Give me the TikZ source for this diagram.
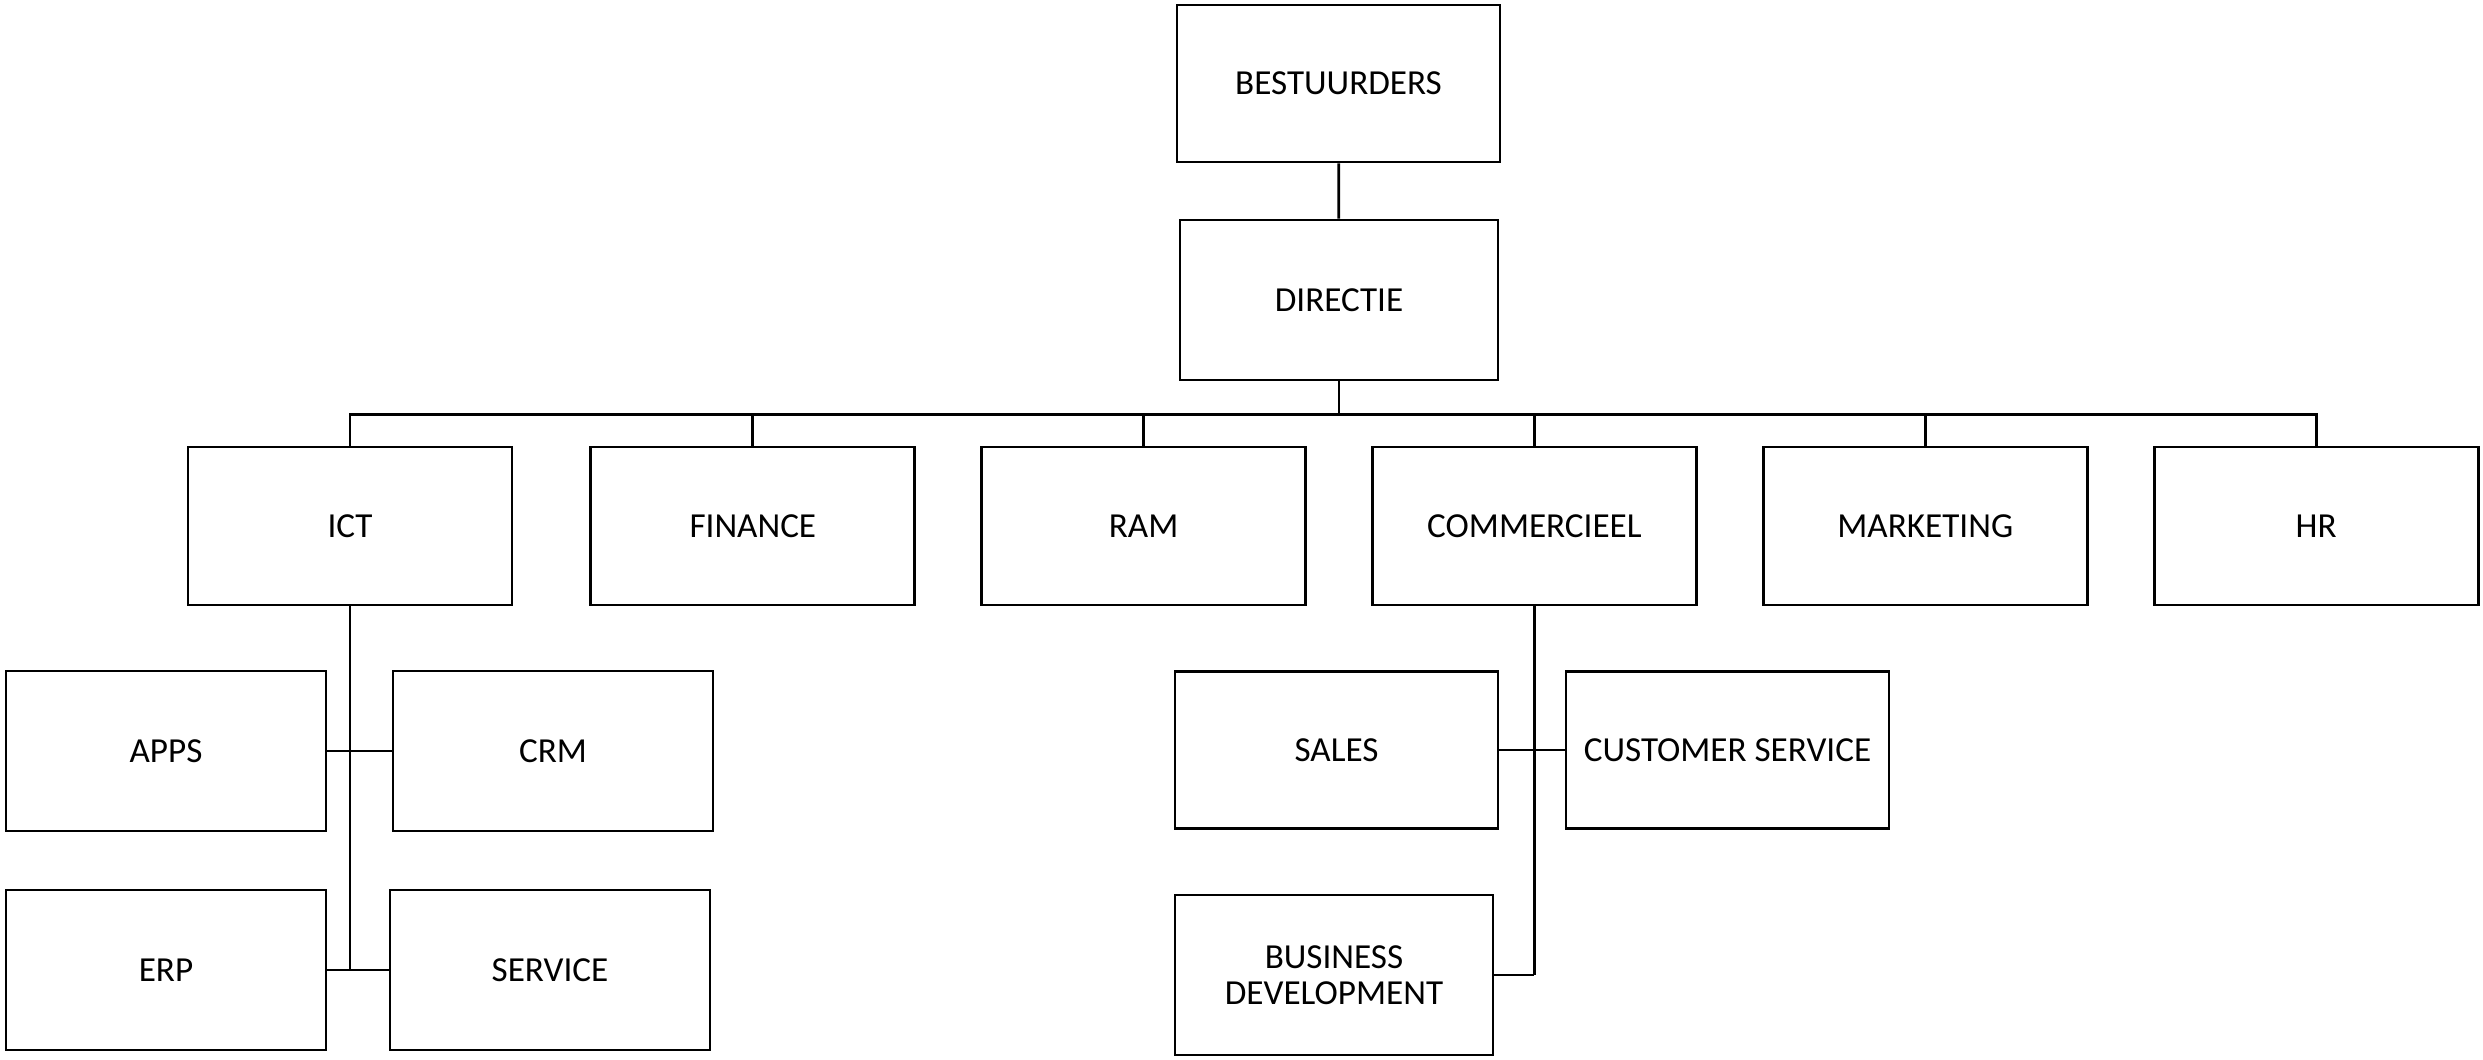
\documentclass[tikz,border=0pt]{standalone}
\usepackage{fontspec}
\setmainfont{Carlito}
\usetikzlibrary{positioning,calc}
\tikzset{
    unit/.style = {draw, rectangle, line width=0.8pt, minimum width=3.24cm, minimum height=1.58cm, align=center, inner sep=2pt},
    link/.style = {line width=0.8pt},
}

\begin{document}
\begin{tikzpicture}[
    every node/.style={font=\fontsize{10}{10.2}\selectfont},
    node distance=0.64cm
]
\useasboundingbox (0,0) rectangle (24.83,-10.60);

% Top of the chart
\node[unit, minimum width=3.23cm, minimum height=1.57cm] (bestuur) at (13.385,-0.835) {BESTUURDERS};
\node[unit, minimum width=3.18cm, minimum height=1.60cm] (directie) at (13.39,-3.00) {DIRECTIE};

% Departments (one row)
\node[unit] (ict) at (3.50,-5.26) {ICT};
\node[unit, right=0.76cm of ict] (finance) {FINANCE};
\node[unit, right=0.64cm of finance] (ram) {RAM};
\node[unit, right=0.64cm of ram] (comm) {COMMERCIEEL};
\node[unit, right=0.64cm of comm] (marketing) {MARKETING};
\node[unit, right=0.64cm of marketing] (hr) {HR};

% ICT teams
\node[unit, minimum width=3.20cm, minimum height=1.60cm] (apps) at (1.66,-7.51) {APPS};
\node[unit, minimum width=3.20cm, minimum height=1.60cm] (crm) at (5.53,-7.51) {CRM};
\node[unit, minimum width=3.20cm, minimum height=1.60cm] (erp) at (1.66,-9.70) {ERP};
\node[unit, minimum width=3.20cm, minimum height=1.60cm] (service) at (5.50,-9.70) {SERVICE};

% Commercial teams
\node[unit, minimum width=3.23cm, minimum height=1.57cm] (sales) at (13.365,-7.50) {SALES};
\node[unit, minimum width=3.23cm, minimum height=1.57cm] (custserv) at (17.275,-7.50) {CUSTOMER SERVICE};
\node[unit, minimum width=3.18cm, minimum height=1.60cm] (bizdev) at (13.34,-9.75) {BUSINESS\\DEVELOPMENT};

% Board to management
\draw[link] (bestuur) -- (directie);

% Bus to the departments
\coordinate (bus) at ($(directie.south)+(0,-0.33)$);
\draw[link] (directie.south) -- (bus);
\foreach \dept in {ict,finance,ram,comm,marketing,hr}
    \draw[link] (bus) -| (\dept.north);

% ICT trunk and branches
\draw[link] (ict.south) -- (ict.south |- erp.east);
\draw[link] (apps.east) -- (crm.west);
\draw[link] (erp.east) -- (service.west);

% Commercial trunk and branches
\draw[link] (comm.south) -- (comm.south |- bizdev.east);
\draw[link] (sales.east) -- (custserv.west);
\draw[link] (bizdev.east) -- (bizdev.east -| comm.south);

\end{tikzpicture}
\end{document}
